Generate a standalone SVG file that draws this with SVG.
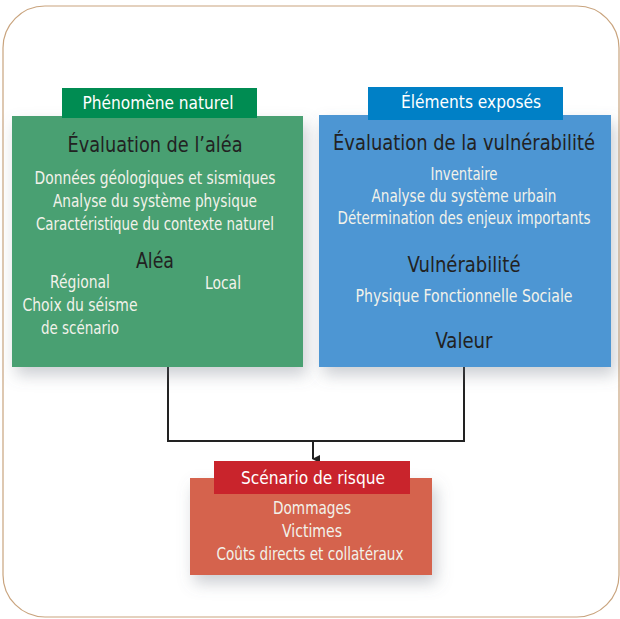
<svg xmlns="http://www.w3.org/2000/svg" width="620" height="619" viewBox="0 0 620 619">
<style>
text{font-family:"Liberation Sans Narrow","DejaVu Sans Condensed","Liberation Sans",sans-serif;text-anchor:middle}
.hd{fill:#ffffff;font-size:17px}
.t1{fill:#222222;font-size:21px}
.t2{fill:#f2f2ea;font-size:17px}
.lnk{fill:none;stroke:#222222;stroke-width:2}
</style>
<defs>
<filter id="sh" x="-20%" y="-20%" width="150%" height="160%">
<feDropShadow dx="4" dy="8" stdDeviation="8" flood-color="#6a7280" flood-opacity="0.35"/>
</filter>
<marker id="arr" markerWidth="8" markerHeight="8" refX="4" refY="7" orient="auto" markerUnits="userSpaceOnUse">
<path d="M0,0 L8,0 L4,8 Z" fill="#222222"/>
</marker>
</defs>
<rect x="3" y="6" width="616" height="611" rx="42" fill="#ffffff" stroke="#c9a47e" stroke-width="1.2"/>
<g id="connectors">
<path class="lnk" d="M168,367 V441 H464 V367"/>
<path class="lnk" d="M313,441 V459" marker-end="url(#arr)"/>
</g>
<g id="phenomene">
<rect x="12" y="116" width="291" height="251" fill="#4aa072" filter="url(#sh)"/>
<rect x="62" y="88" width="195" height="30" fill="#008c52"/>
<text class="hd" x="158" y="109" textLength="151" lengthAdjust="spacingAndGlyphs">Phénomène naturel</text>
<text class="t1" x="155" y="152" textLength="175" lengthAdjust="spacingAndGlyphs">Évaluation de l’aléa</text>
<text class="t2" x="155" y="184" textLength="241" lengthAdjust="spacingAndGlyphs">Données géologiques et sismiques</text>
<text class="t2" x="155" y="207" textLength="204" lengthAdjust="spacingAndGlyphs">Analyse du système physique</text>
<text class="t2" x="155" y="230" textLength="238" lengthAdjust="spacingAndGlyphs">Caractéristique du contexte naturel</text>
<text class="t1" x="155" y="268" textLength="38" lengthAdjust="spacingAndGlyphs">Aléa</text>
<text class="t2" x="80" y="288" textLength="60" lengthAdjust="spacingAndGlyphs">Régional</text>
<text class="t2" x="223" y="289" textLength="36" lengthAdjust="spacingAndGlyphs">Local</text>
<text class="t2" x="80" y="311" textLength="115" lengthAdjust="spacingAndGlyphs">Choix du séisme</text>
<text class="t2" x="80" y="334" textLength="78" lengthAdjust="spacingAndGlyphs">de scénario</text>
</g>
<g id="elements">
<rect x="319" y="115" width="292" height="252" fill="#4d96d3" filter="url(#sh)"/>
<rect x="368" y="87" width="195" height="33" fill="#0080c6"/>
<text class="hd" x="471" y="108" textLength="140" lengthAdjust="spacingAndGlyphs">Éléments exposés</text>
<text class="t1" x="464" y="150" textLength="262" lengthAdjust="spacingAndGlyphs">Évaluation de la vulnérabilité</text>
<text class="t2" x="464" y="180" textLength="67" lengthAdjust="spacingAndGlyphs">Inventaire</text>
<text class="t2" x="464" y="202" textLength="185" lengthAdjust="spacingAndGlyphs">Analyse du système urbain</text>
<text class="t2" x="464" y="224" textLength="253" lengthAdjust="spacingAndGlyphs">Détermination des enjeux importants</text>
<text class="t1" x="464" y="272" textLength="113" lengthAdjust="spacingAndGlyphs">Vulnérabilité</text>
<text class="t2" x="464" y="302" textLength="217" lengthAdjust="spacingAndGlyphs">Physique Fonctionnelle Sociale</text>
<text class="t1" x="464" y="348" textLength="57" lengthAdjust="spacingAndGlyphs">Valeur</text>
</g>
<g id="scenario">
<rect x="190" y="478" width="242" height="97" fill="#d5644d" filter="url(#sh)"/>
<rect x="214" y="461" width="196" height="33" fill="#c9242c"/>
<text class="hd" x="313" y="484" textLength="144" lengthAdjust="spacingAndGlyphs">Scénario de risque</text>
<text class="t2" x="312" y="514" textLength="78" lengthAdjust="spacingAndGlyphs">Dommages</text>
<text class="t2" x="312" y="537" textLength="60" lengthAdjust="spacingAndGlyphs">Victimes</text>
<text class="t2" x="310" y="560" textLength="187" lengthAdjust="spacingAndGlyphs">Coûts directs et collatéraux</text>
</g>
</svg>
